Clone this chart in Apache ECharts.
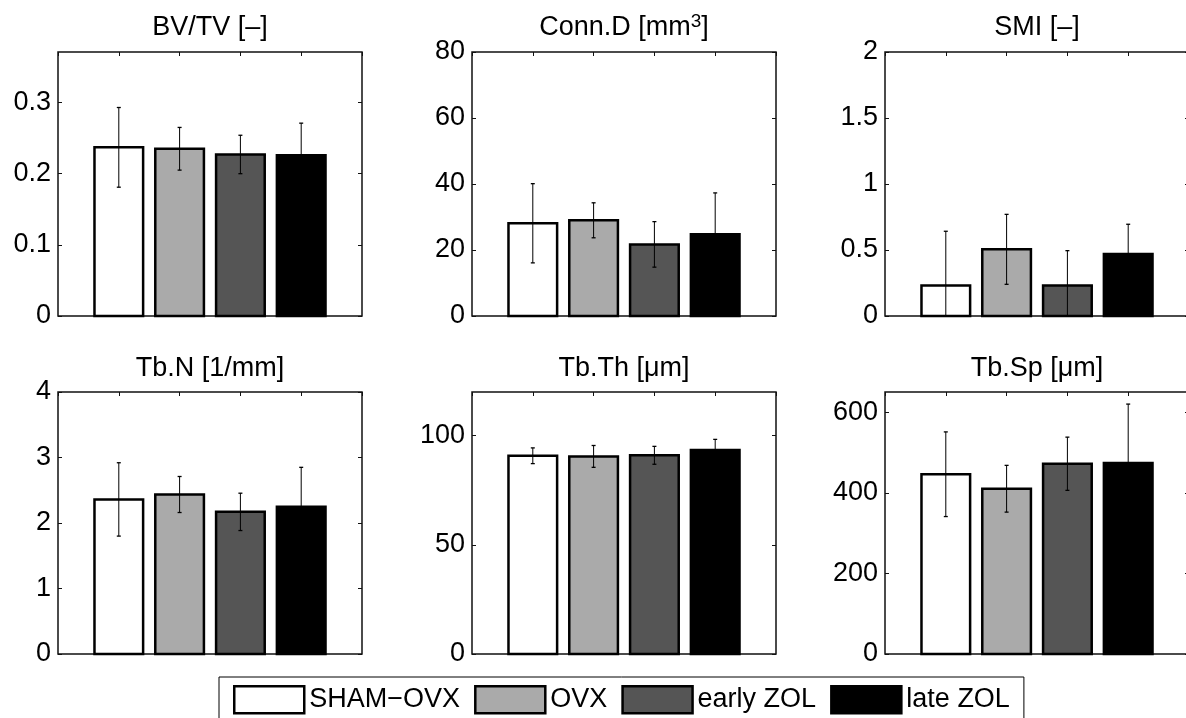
<!DOCTYPE html>
<html>
<head>
<meta charset="utf-8">
<script src="https://cdn.jsdelivr.net/npm/echarts@6/dist/echarts.min.js"></script>
<style>
  html, body { margin: 0; padding: 0; background: #fff; }
  #main { width: 1186px; height: 718px; }
</style>
</head>
<body>
<div id="main"></div>
<script>
// Treatment groups and their bar fills
const groups = ['SHAM\u2212OVX', 'OVX', 'early ZOL', 'late ZOL'];
const barFill = ['#ffffff', '#aaaaaa', '#555555', '#000000'];

// Panel titles
const panelTitles = [
  'BV/TV [\u2013]',
  'Conn.D [mm{sup|3}]',
  'SMI [\u2013]',
  'Tb.N [1/mm]',
  'Tb.Th [\u03bcm]',
  'Tb.Sp [\u03bcm]'
];

// Group means and standard deviations for each parameter
const bvtvMean = [0.237, 0.235, 0.227, 0.226];
const bvtvSd   = [0.056, 0.030, 0.027, 0.045];
const connDMean = [28.1, 29.0, 21.7, 24.8];
const connDSd   = [12.0, 5.3, 6.9, 12.5];
const smiMean = [0.232, 0.505, 0.232, 0.470];
const smiSd   = [0.410, 0.265, 0.263, 0.225];
const tbNMean = [2.36, 2.435, 2.17, 2.25];
const tbNSd   = [0.56, 0.275, 0.285, 0.60];
const tbThMean = [90.8, 90.5, 91.0, 93.4];
const tbThSd   = [3.6, 5.0, 4.1, 4.9];
const tbSpMean = [446, 410, 472, 474];
const tbSpSd   = [105, 58, 66, 146];

// Y-axis upper limits and tick values
const yMax = [0.371, 80, 2, 4, 120, 650];
const bvtvTicks  = [0, 0.1, 0.2, 0.3];
const connDTicks = [0, 20, 40, 60, 80];
const smiTicks   = [0, 0.5, 1, 1.5, 2];
const tbNTicks   = [0, 1, 2, 3, 4];
const tbThTicks  = [0, 50, 100];
const tbSpTicks  = [0, 200, 400, 600];

const means = [bvtvMean, connDMean, smiMean, tbNMean, tbThMean, tbSpMean];
const sds = [bvtvSd, connDSd, smiSd, tbNSd, tbThSd, tbSpSd];
const ticks = [bvtvTicks, connDTicks, smiTicks, tbNTicks, tbThTicks, tbSpTicks];

// Layout of the 2 x 3 panel grid
const FONT = '"Liberation Sans", Arial, Helvetica, sans-serif';
const colLeft = [58, 472, 885];
const plotW = 304;
const rowTop = [52, 392];
const rowH = [264, 262];
const titleTop = [12.5, 352.8];

const grids = [], xAxes = [], yAxes = [], titles = [], series = [];

for (let p = 0; p < 6; p++) {
  const col = p % 3, row = Math.floor(p / 3);
  grids.push({
    left: colLeft[col], top: rowTop[row], width: plotW, height: rowH[row],
    show: true, borderColor: '#111', borderWidth: 1.5,
    backgroundColor: 'rgba(0,0,0,0)', containLabel: false, outerBoundsMode: 'none'
  });
  const tickStyle = { show: true, inside: true, length: 4, lineStyle: { color: '#111', width: 1 } };
  const hiddenLine = { show: false, onZero: false };
  xAxes.push({
    type: 'value', gridIndex: p, min: 0, max: 5, interval: 1, position: 'bottom',
    axisLine: hiddenLine, axisTick: { show: false }, axisLabel: { show: false },
    splitLine: { show: false }
  });
  xAxes.push({
    type: 'value', gridIndex: p, min: 0, max: 5, interval: 1, position: 'top',
    axisLine: hiddenLine, axisTick: tickStyle, axisLabel: { show: false },
    splitLine: { show: false }
  });
  const yBase = {
    type: 'value', gridIndex: p, min: 0, max: yMax[p],
    axisLine: hiddenLine, splitLine: { show: false }
  };
  yAxes.push(Object.assign({}, yBase, {
    position: 'left',
    axisTick: Object.assign({}, tickStyle, { customValues: ticks[p] }),
    axisLabel: {
      customValues: ticks[p],
      fontSize: 27, fontFamily: FONT, color: '#000', margin: 7
    }
  }));
  yAxes.push(Object.assign({}, yBase, {
    position: 'right',
    axisTick: Object.assign({}, tickStyle, { customValues: ticks[p] }),
    axisLabel: { show: false }
  }));

  titles.push({
    text: panelTitles[p],
    left: colLeft[col] + plotW / 2,
    top: titleTop[row],
    textAlign: 'center',
    padding: 0,
    textStyle: {
      fontSize: 27, fontWeight: 'normal', fontFamily: FONT, color: '#000',
      lineHeight: 31,
      rich: {
        sup: { fontSize: 19, lineHeight: 12, verticalAlign: 'top', fontFamily: FONT, color: '#000' }
      }
    }
  });

  for (let g = 0; g < groups.length; g++) {
    series.push({
      type: 'custom',
      name: groups[g],
      xAxisIndex: 2 * p,
      yAxisIndex: 2 * p,
      z: 2,
      clip: false,
      itemStyle: { color: barFill[g], borderColor: '#000', borderWidth: 2.5 },
      data: [[g + 1, means[p][g], sds[p][g]]],
      renderItem: function (params, api) {
        const x = api.value(0), m = api.value(1), s = api.value(2);
        const halfBar = 0.4;
        const tl = api.coord([x - halfBar, m]);
        const br = api.coord([x + halfBar, 0]);
        const hi = m + s, lo = m - s;
        const pHi = api.coord([x, hi]);
        const pLo = api.coord([x, Math.max(lo, 0)]);
        const cap = 2;
        const children = [
          {
            type: 'rect',
            shape: { x: tl[0], y: tl[1], width: br[0] - tl[0], height: br[1] - tl[1] },
            style: { fill: barFill[g], stroke: '#000', lineWidth: 2.5 }
          },
          {
            type: 'line',
            shape: { x1: pHi[0], y1: pHi[1], x2: pLo[0], y2: pLo[1] },
            style: { stroke: '#000', lineWidth: 1 }
          },
          {
            type: 'line',
            shape: { x1: pHi[0] - cap, y1: pHi[1], x2: pHi[0] + cap, y2: pHi[1] },
            style: { stroke: '#000', lineWidth: 1.3 }
          }
        ];
        if (lo >= 0) {
          children.push({
            type: 'line',
            shape: { x1: pLo[0] - cap, y1: pLo[1], x2: pLo[0] + cap, y2: pLo[1] },
            style: { stroke: '#000', lineWidth: 1.3 }
          });
        }
        return { type: 'group', children: children };
      }
    });
  }
}

const chart = echarts.init(document.getElementById('main'), null, { renderer: 'canvas' });
chart.setOption({
  animation: false,
  backgroundColor: '#fff',
  title: titles,
  grid: grids,
  xAxis: xAxes,
  yAxis: yAxes,
  legend: {
    data: groups,
    left: 219,
    top: 677,
    orient: 'horizontal',
    padding: [8, 14, 8, 14],
    itemGap: 14,
    itemWidth: 70,
    itemHeight: 27,
    icon: 'rect',
    selectedMode: false,
    backgroundColor: '#fff',
    borderColor: '#000',
    borderWidth: 1,
    itemStyle: { borderColor: '#000', borderWidth: 2.5 },
    textStyle: { fontSize: 27, fontFamily: FONT, color: '#000' }
  },
  series: series
});
</script>
</body>
</html>
